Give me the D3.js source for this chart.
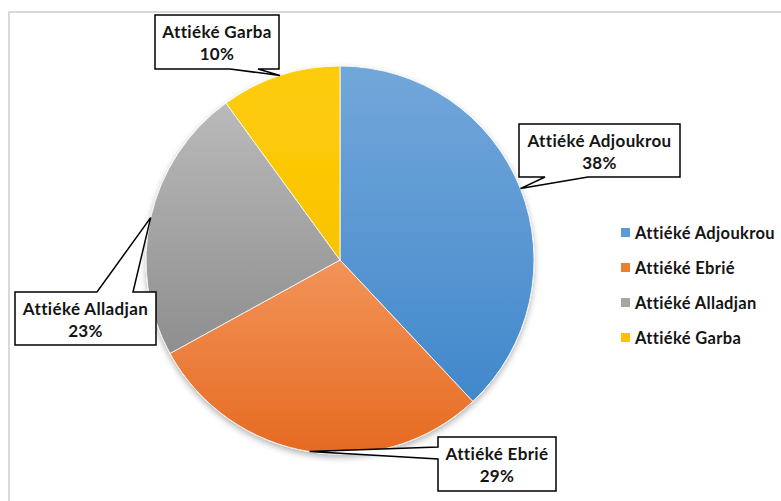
<!DOCTYPE html>
<html>
<head>
<meta charset="utf-8">
<script src="https://cdn.jsdelivr.net/npm/d3@7"></script>
<style>
  html, body { margin: 0; padding: 0; background: #fff; }
  svg { display: block; }
  text { font-family: Lato, "Open Sans", sans-serif; font-weight: bold; }
</style>
</head>
<body>
<svg id="chart" width="781" height="501"></svg>
<script>
// Shares of attiéké varieties (percent)
const categories = ["Attiéké Adjoukrou", "Attiéké Ebrié", "Attiéké Alladjan", "Attiéké Garba"];
const shares = [38, 29, 23, 10];

// Slice colours: [top of gradient, bottom of gradient]
const palette = [
  ["#73a7da", "#4188cb"],
  ["#f29459", "#e66a21"],
  ["#bababa", "#8e8e8e"],
  ["#fecc0c", "#f9c400"]
];
const legendColors = ["#5b9bd5", "#ed7d31", "#a5a5a5", "#ffc000"];

// Callout boxes: box rect, the edge the pointer leaves from, and the two base offsets along it
const callouts = [
  { x: 519, y: 124, w: 161, h: 53, edge: "bottom", b: [545, 588] },
  { x: 438, y: 437, w: 118, h: 54, edge: "left",   b: [447, 459] },
  { x: 15,  y: 292, w: 141, h: 53, edge: "top",    b: [97, 133] },
  { x: 155, y: 15,  w: 124, h: 54, edge: "bottom", b: [230, 258] }
];

const svg = d3.select("#chart");
const cx = 340, cy = 260, radius = 194;

// Outer chart frame (only top and left edges fall inside the view)
svg.append("rect")
  .attr("x", 9).attr("y", 12)
  .attr("width", 800).attr("height", 520)
  .attr("fill", "none")
  .attr("stroke", "#d9d9d9")
  .attr("stroke-width", 2);

const defs = svg.append("defs");
palette.forEach((c, i) => {
  const g = defs.append("linearGradient")
    .attr("id", "grad" + i)
    .attr("x1", 0).attr("y1", 0).attr("x2", 0).attr("y2", 1);
  g.append("stop").attr("offset", "0%").attr("stop-color", c[0]);
  g.append("stop").attr("offset", "100%").attr("stop-color", c[1]);
});
const shadow = defs.append("filter").attr("id", "pieShadow")
  .attr("x", "-20%").attr("y", "-20%").attr("width", "140%").attr("height", "140%");
shadow.append("feDropShadow")
  .attr("dx", 0).attr("dy", 3).attr("stdDeviation", 3)
  .attr("flood-color", "#000").attr("flood-opacity", 0.3);

const pie = d3.pie().sort(null).value(d => d)(shares);
const arc = d3.arc().innerRadius(0).outerRadius(radius);

const pieG = svg.append("g")
  .attr("transform", `translate(${cx},${cy})`)
  .attr("filter", "url(#pieShadow)");

pieG.selectAll("path")
  .data(pie)
  .join("path")
  .attr("d", arc)
  .attr("fill", (d, i) => `url(#grad${i})`)
  .attr("stroke", "#ffffff")
  .attr("stroke-width", 0.8);

// Data label callouts with pointers to each slice's rim midpoint
const labelG = svg.append("g");
pie.forEach((d, i) => {
  const c = callouts[i];
  const a = (d.startAngle + d.endAngle) / 2;
  const tx = cx + radius * Math.sin(a);
  const ty = cy - radius * Math.cos(a);
  const x0 = c.x, y0 = c.y, x1 = c.x + c.w, y1 = c.y + c.h;
  let p;
  if (c.edge === "bottom") {
    p = `M${x0},${y0}H${x1}V${y1}H${c.b[1]}L${tx},${ty}L${c.b[0]},${y1}H${x0}Z`;
  } else if (c.edge === "top") {
    p = `M${x0},${y0}H${c.b[0]}L${tx},${ty}L${c.b[1]},${y0}H${x1}V${y1}H${x0}Z`;
  } else {
    p = `M${x0},${y0}H${x1}V${y1}H${x0}V${c.b[1]}L${tx},${ty}L${x0},${c.b[0]}Z`;
  }
  labelG.append("path")
    .attr("d", p)
    .attr("fill", "#ffffff")
    .attr("stroke", "#000000")
    .attr("stroke-width", 1.5)
    .attr("stroke-linejoin", "miter");
  const t = labelG.append("text")
    .attr("text-anchor", "middle")
    .attr("fill", "#141414")
    .style("font-size", "17px")
    .style("letter-spacing", "0.35px");
  t.append("tspan").attr("x", c.x + c.w / 2).attr("y", c.y + 23).text(categories[i]);
  t.append("tspan").attr("x", c.x + c.w / 2).attr("y", c.y + 45).text(shares[i] + "%");
});

// Legend
const legend = svg.append("g").attr("transform", "translate(621,233)");
const rowStep = 35;
categories.forEach((name, i) => {
  const row = legend.append("g").attr("transform", `translate(0,${i * rowStep})`);
  row.append("rect")
    .attr("x", 0).attr("y", -5)
    .attr("width", 9).attr("height", 9)
    .attr("fill", legendColors[i]);
  row.append("text")
    .attr("x", 14).attr("y", 6)
    .attr("fill", "#141414")
    .style("font-size", "16.5px")
    .style("letter-spacing", "0.35px")
    .text(name);
});
</script>
</body>
</html>
